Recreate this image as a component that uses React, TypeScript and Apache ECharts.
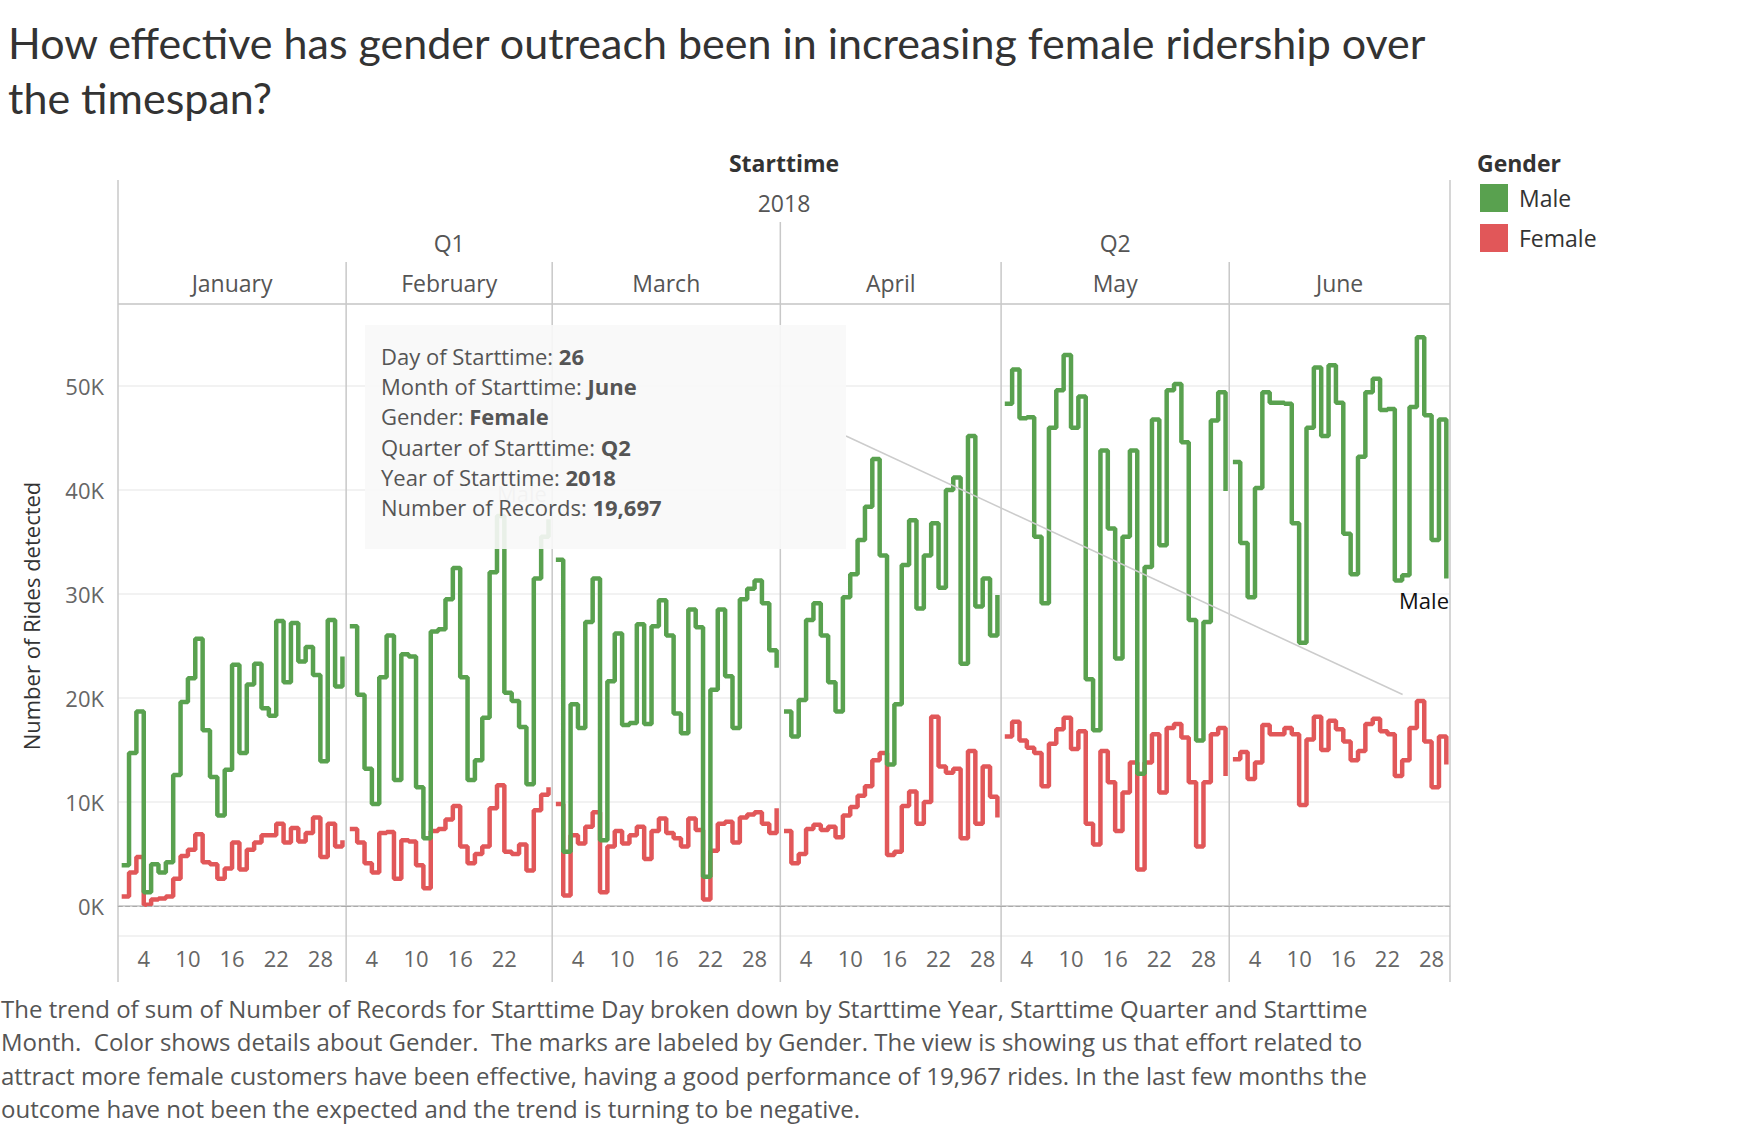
import React, { useEffect, useRef } from 'react';
import * as echarts from 'echarts';

// months of the facet header
const monthNames = ['January', 'February', 'March', 'April', 'May', 'June'];
const monthDays = [31, 28, 31, 30, 31, 30];
const monthQuarter = ['Q1', 'Q1', 'Q1', 'Q2', 'Q2', 'Q2'];
const dayTicks = [4, 10, 16, 22, 28];
const febDayTicks = [4, 10, 16, 22];

// Number of Records per day, Male
const janMale = [3900, 14700, 18700, 1300, 4000, 3200, 4200, 12600, 19600, 21900, 25700, 16900, 12400, 8700, 13100, 23200, 14700, 21300, 23300, 19000, 18300, 27400, 21500, 27200, 23500, 24900, 22200, 13900, 27500, 21100, 24000];
const febMale = [26900, 20300, 13200, 9800, 22000, 26000, 12100, 24200, 24000, 11400, 6500, 26400, 26600, 29500, 32500, 22000, 12100, 14000, 18100, 32100, 37500, 20500, 19700, 17200, 11700, 31500, 35500, 37200];
const marMale = [33300, 5200, 19400, 17100, 27300, 31500, 6300, 21600, 26200, 17400, 17600, 27100, 17500, 26900, 29400, 26000, 18500, 16600, 28500, 26800, 2800, 20800, 28500, 22100, 17100, 29500, 30500, 31300, 29100, 24600, 22900];
const aprMale = [18700, 16300, 19800, 27500, 29100, 26000, 21500, 18700, 29700, 31900, 35200, 38400, 43000, 33700, 13600, 19400, 32800, 37100, 28600, 33700, 36800, 30600, 40000, 41200, 23300, 45200, 28800, 31500, 26000, 29900];
const mayMale = [48300, 51600, 46900, 47000, 35500, 29100, 46000, 49600, 53000, 46000, 49000, 21800, 16900, 43800, 36300, 23800, 35500, 43800, 12700, 32600, 46800, 34700, 49600, 50200, 44600, 27500, 15900, 27300, 46700, 49400, 39900];
const junMale = [42700, 34900, 29700, 40200, 49400, 48400, 48400, 48300, 36800, 25300, 46000, 51800, 45200, 52000, 48400, 35800, 31900, 43200, 49400, 50700, 47700, 47800, 31300, 31800, 48000, 54700, 47200, 35200, 46800, 31500];

// Number of Records per day, Female
const janFemale = [900, 3200, 4700, 100, 600, 700, 900, 2600, 4800, 5400, 6900, 4200, 4000, 2600, 3600, 6100, 3500, 5400, 6100, 6800, 6800, 7900, 6100, 7500, 6200, 7000, 8500, 4700, 7900, 5700, 6300];
const febFemale = [7400, 6100, 4100, 3200, 7000, 7100, 2600, 6300, 6200, 3900, 1700, 7200, 7400, 8300, 9600, 5700, 4100, 5000, 5700, 9400, 11600, 5200, 5000, 5900, 3400, 9200, 10700, 11400];
const marFemale = [9800, 1000, 6800, 6000, 7600, 9000, 1300, 5700, 7200, 6000, 6800, 7600, 4500, 7200, 8400, 7000, 6500, 5700, 8400, 7300, 600, 5300, 7900, 8100, 6100, 8500, 8800, 9000, 7900, 7000, 9400];
const aprFemale = [7200, 4100, 5000, 7400, 7800, 7300, 7600, 6600, 8700, 9500, 10600, 11500, 14000, 14700, 4900, 5200, 9600, 11000, 7900, 10000, 18200, 13400, 12800, 13200, 6500, 14900, 7900, 13400, 10500, 8500];
const mayFemale = [16300, 17700, 15900, 15200, 14700, 11500, 15600, 17000, 18100, 15100, 16800, 7900, 5900, 14900, 11900, 7200, 10900, 13800, 3500, 13800, 16500, 10900, 17100, 17500, 16200, 11900, 5700, 11900, 16500, 17100, 12500];
const junFemale = [14100, 14800, 12200, 13800, 17400, 16500, 16500, 17100, 16500, 9700, 16000, 18200, 15000, 17800, 17000, 15800, 14000, 14900, 17500, 18000, 16800, 16500, 12500, 14000, 17100, 19697, 15800, 11400, 16300, 13600];

const maleByMonth = [janMale, febMale, marMale, aprMale, mayMale, junMale];
const femaleByMonth = [janFemale, febFemale, marFemale, aprFemale, mayFemale, junFemale];

const titleLines = [
    'How effective has gender outreach been in increasing female ridership over',
    'the timespan?',
];
const captionLines = [
    'The trend of sum of Number of Records for Starttime Day broken down by Starttime Year, Starttime Quarter and Starttime',
    'Month.  Color shows details about Gender.  The marks are labeled by Gender. The view is showing us that effort related to',
    'attract more female customers have been effective, having a good performance of 19,967 rides. In the last few months the',
    'outcome have not been the expected and the trend is turning to be negative.',
];

const MALE_COLOR = '#59A14F';
const FEMALE_COLOR = '#E15759';
const FONT = 'Open Sans';
const TITLE_FONT = 'Lato';
const BORDER = '#c8c8c8';

const PLOT_LEFT = 118;
const PLOT_RIGHT = 1450;
const PLOT_TOP = 304;
const PLOT_BOTTOM = 936;
const Y_MIN = -2900;
const Y_MAX = 57900;

const App: React.FC = () => {
    const chartRef = useRef<HTMLDivElement>(null);

    useEffect(() => {
        const chartDom = chartRef.current!;
        const myChart = echarts.init(chartDom, undefined, { renderer: 'svg' });

        const totalDays = monthDays.reduce((a, b) => a + b, 0);
        const dayWidth = (PLOT_RIGHT - PLOT_LEFT) / totalDays;
        const edgeX = (i: number) => PLOT_LEFT + monthDays.slice(0, i).reduce((a, b) => a + b, 0) * dayWidth;
        const toY = (v: number) => PLOT_TOP + (Y_MAX - v) / (Y_MAX - Y_MIN) * (PLOT_BOTTOM - PLOT_TOP);

        const grids = monthDays.map((d, i) => ({
            left: edgeX(i), top: PLOT_TOP, width: d * dayWidth, height: PLOT_BOTTOM - PLOT_TOP,
        }));

        const xAxes = monthDays.map((d, i) => ({
            type: 'value', gridIndex: i, min: 0.5, max: d + 0.5,
            splitLine: { show: false },
            axisTick: { show: false },
            axisLine: { show: true, lineStyle: { color: BORDER, width: 1.5 } },
            axisLabel: {
                customValues: i === 1 ? febDayTicks : dayTicks,
                color: '#666', fontSize: 22, fontFamily: FONT, margin: 11,
            },
        }));

        const yAxes = monthDays.map((_, i) => ({
            type: 'value', gridIndex: i, min: Y_MIN, max: Y_MAX, splitNumber: 6,
            axisLine: { show: false },
            axisTick: { show: false },
            axisLabel: {
                show: i === 0, color: '#666', fontSize: 22, fontFamily: FONT, margin: 14,
                formatter: (v: number) => (v % 10000 === 0 ? `${v / 1000}K` : ''),
            },
            splitLine: { lineStyle: { color: '#eeeeee', width: 1.5 } },
        }));

        const series: any[] = [];
        monthDays.forEach((_, i) => {
            series.push({
                type: 'line', name: 'Female', xAxisIndex: i, yAxisIndex: i, step: 'end',
                data: femaleByMonth[i].map((v, d) => [d + 1, v]),
                symbol: 'none', color: FEMALE_COLOR, lineStyle: { width: 4.5 }, z: 2,
                markLine: {
                    silent: true, symbol: ['none', 'none'], label: { show: false },
                    lineStyle: { color: '#aaa', type: 'dashed', width: 1.2 },
                    data: [{ yAxis: 0 }],
                },
            });
        });
        monthDays.forEach((_, i) => {
            series.push({
                type: 'line', name: 'Male', xAxisIndex: i, yAxisIndex: i, step: 'end',
                data: maleByMonth[i].map((v, d) => [d + 1, v]),
                symbol: 'none', color: MALE_COLOR, lineStyle: { width: 4.5 }, z: 3,
            });
        });

        const text = (t: string, x: number, y: number, o: any = {}) => ({
            type: 'text', x, y, z: o.z ?? 1, rotation: o.rotation ?? 0,
            style: {
                text: t, fill: o.fill ?? '#555', fontSize: o.fontSize ?? 22,
                fontFamily: o.fontFamily ?? FONT, fontWeight: o.fontWeight ?? 'normal',
                align: o.align ?? 'center', verticalAlign: 'middle', rich: o.rich,
            },
        });
        const line = (x1: number, y1: number, x2: number, y2: number, color = BORDER, z = 1) => ({
            type: 'line', z, silent: true,
            shape: { x1, y1, x2, y2 },
            style: { stroke: color, lineWidth: 1.5 },
        });

        const graphics: any[] = [];
        titleLines.forEach((t, k) => graphics.push(text(t, 8, 42 + k * 55, {
            align: 'left', fontSize: 43, fill: '#333', fontFamily: TITLE_FONT,
        })));

        // facet header
        const mid = (PLOT_LEFT + PLOT_RIGHT) / 2;
        graphics.push(text('Starttime', mid, 163, { fontWeight: 'bold', fill: '#333', fontSize: 23 }));
        graphics.push(text('2018', mid, 203, { fontSize: 23 }));
        ['Q1', 'Q2'].forEach((q) => {
            const idx = monthQuarter.map((m, i) => (m === q ? i : -1)).filter((i) => i >= 0);
            graphics.push(text(q, (edgeX(idx[0]) + edgeX(idx[idx.length - 1] + 1)) / 2, 243, { fontSize: 23 }));
        });
        monthNames.forEach((m, i) => graphics.push(text(m, (edgeX(i) + edgeX(i + 1)) / 2, 283, { fontSize: 23 })));
        for (let i = 0; i <= monthDays.length; i++) {
            const outer = i === 0 || i === monthDays.length;
            const quarterEdge = !outer && monthQuarter[i] !== monthQuarter[i - 1];
            graphics.push(line(edgeX(i), outer ? 180 : quarterEdge ? 222 : 262, edgeX(i), 982));
        }
        graphics.push(line(PLOT_LEFT, PLOT_TOP, PLOT_RIGHT, PLOT_TOP));

        graphics.push(text('Number of Rides detected', 31, (PLOT_TOP + PLOT_BOTTOM) / 2 - 4, {
            rotation: Math.PI / 2, fill: '#333', fontSize: 22,
        }));
        graphics.push(text('Gender', 1477, 163, { align: 'left', fontWeight: 'bold', fill: '#333', fontSize: 23 }));

        // mark labels
        graphics.push(text('Male', 522, 493, { fill: '#bbb', z: 40 }));
        graphics.push(text('Male', 1449, 600, { align: 'right', fill: '#111', z: 40 }));

        // pinned tooltip (June 26, Female)
        const tipDay = 26;
        const tipValue = junFemale[tipDay - 1];
        const tipRows = [
            ['Day of Starttime: ', String(tipDay)],
            ['Month of Starttime: ', monthNames[5]],
            ['Gender: ', 'Female'],
            ['Quarter of Starttime: ', monthQuarter[5]],
            ['Year of Starttime: ', '2018'],
            ['Number of Records: ', tipValue.toLocaleString('en-US')],
        ];
        const boxX = 365, boxY = 325, boxW = 481, boxH = 224;
        const px = edgeX(5) + (tipDay - 0.5) * dayWidth;
        const py = toY(tipValue);
        const sx = boxX + boxW, sy = 436;
        graphics.push(line(sx, sy, sx + (px - sx) * 0.975, sy + (py - sy) * 0.975, '#cccccc', 49));
        graphics.push({
            type: 'rect', z: 50, silent: true,
            shape: { x: boxX, y: boxY, width: boxW, height: boxH },
            style: { fill: 'rgba(248,248,248,0.9)' },
        });
        tipRows.forEach(([k, v], r) => graphics.push(text(`{l|${k}}{b|${v}}`, 381, 356 + r * 30.2, {
            align: 'left', z: 51,
            rich: {
                l: { fontSize: 22, fontFamily: FONT, color: '#666' },
                b: { fontSize: 22, fontFamily: FONT, color: '#333', fontWeight: 'bold' },
            },
        })));

        captionLines.forEach((t, k) => graphics.push(text(t, 1, 1008 + k * 33.6, {
            align: 'left', fill: '#555', fontSize: 24,
        })));

        const option: any = {
            animation: false,
            backgroundColor: '#fff',
            grid: grids,
            xAxis: xAxes,
            yAxis: yAxes,
            legend: {
                data: ['Male', 'Female'], orient: 'vertical', left: 1480, top: 184, padding: 0,
                itemWidth: 28, itemHeight: 28, itemGap: 12, icon: 'rect',
                textStyle: { color: '#333', fontSize: 23, fontFamily: FONT, padding: [0, 0, 0, 6] },
            },
            series,
            graphic: graphics,
        };

        myChart.setOption(option);

        return () => {
            myChart.dispose();
        };
    }, []);

    return <div ref={chartRef} style={{ position: 'absolute', left: 0, top: 0, width: 1754, height: 1130 }} />;
};

export default App;
